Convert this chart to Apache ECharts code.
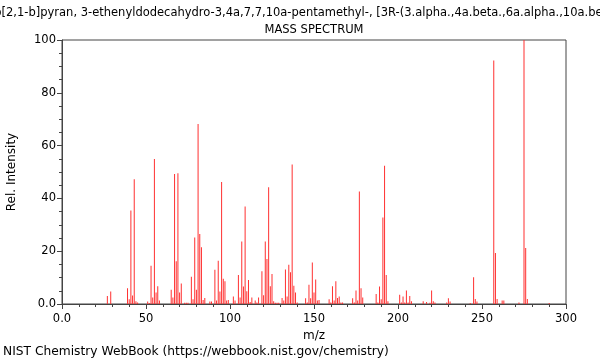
<!DOCTYPE html>
<html>
<head>
<meta charset="utf-8">
<script src="https://cdn.jsdelivr.net/npm/echarts@6/dist/echarts.min.js"></script>
<style>html,body{margin:0;padding:0;background:#fff;}#c{width:600px;height:360px;}</style>
</head>
<body>
<div id="c"></div>
<script>
const titleText = '1H-Naphtho[2,1-b]pyran, 3-ethenyldodecahydro-3,4a,7,7,10a-pentamethyl-, [3R-(3.alpha.,4a.beta.,6a.alpha.,10a.beta.,10b.alpha.)]-';
const subTitle = 'MASS SPECTRUM';
const footer = 'NIST Chemistry WebBook (https://webbook.nist.gov/chemistry)';
const xName = 'm/z';
const yName = 'Rel. Intensity';
const xTicks = [0, 50, 100, 150, 200, 250, 300];
const yTicks = [0, 20, 40, 60, 80, 100];

const mz = [27,29,39,40,41,42,43,44,45,51,52,53,54,55,56,57,58,65,66,67,68,69,70,71,73,74,75,77,78,79,80,81,82,83,84,85,88,89,91,92,93,94,95,96,97,98,99,102,103,105,106,107,108,109,110,111,112,113,115,116,117,119,120,121,122,123,124,125,126,127,128,129,131,132,133,134,135,136,137,138,139,140,145,146,147,148,149,150,151,152,153,159,160,161,162,163,164,165,166,167,173,174,175,176,177,178,179,187,188,189,190,191,192,193,194,201,202,203,204,205,206,207,208,215,217,219,220,221,222,229,230,231,243,245,246,247,257,258,259,262,263,272,275,276,277,290];
const intensity = [3.0,4.7,6.0,1.8,35.4,3.2,47.3,1.0,0.6,0.9,0.4,14.5,2.5,54.9,4.4,6.7,1.3,5.4,2.5,49.2,16.2,49.5,4.4,7.8,0.5,0.5,0.5,10.3,1.8,25.2,5.4,68.2,26.5,21.5,1.5,2.3,0.9,0.9,13.0,1.3,16.4,4.7,46.2,9.6,8.6,1.3,1.5,2.8,1.3,11.0,2.5,23.7,6.6,36.9,4.8,9.1,0.8,2.5,1.3,0.6,2.5,12.4,3.3,23.7,17.0,44.2,6.7,11.4,1.0,0.5,0.5,0.5,2.3,1.3,13.1,2.8,14.9,12.0,52.8,6.9,4.4,0.6,2.2,0.6,7.3,2.2,15.7,4.4,9.3,1.3,1.5,1.8,0.6,6.7,1.3,8.6,2.3,2.8,0.6,0.6,2.2,0.6,5.1,1.3,42.6,6.0,2.5,3.8,0.6,6.6,1.8,32.8,52.4,11.0,1.0,3.5,0.6,2.8,0.6,5.1,0.6,3.0,1.0,1.0,0.8,0.5,5.1,1.0,0.6,0.6,2.2,0.9,0.4,10.1,1.9,0.9,92.2,19.3,1.9,1.3,1.3,0.6,100,21.2,1.9,0.4];

const FONT = 'DejaVu Sans';
const chart = echarts.init(document.getElementById('c'), null, {renderer: 'canvas'});
const fmt = v => (v === 0 ? '0.0' : String(v));
chart.setOption({
  animation: false,
  backgroundColor: '#fff',
  textStyle: {fontFamily: FONT},
  title: [
    {text: titleText, left: 314, top: 7, textAlign: 'center', padding: 0,
     textStyle: {fontFamily: FONT, fontSize: 11.5, fontWeight: 'normal', color: '#000'}},
    {text: subTitle, left: 314, top: 24, textAlign: 'center', padding: 0,
     textStyle: {fontFamily: FONT, fontSize: 11.5, fontWeight: 'normal', color: '#000'}},
    {text: footer, left: 3, top: 346, padding: 0,
     textStyle: {fontFamily: FONT, fontSize: 12.25, fontWeight: 'normal', color: '#000'}}
  ],
  grid: {left: 62, right: 34, top: 40, bottom: 56, outerBoundsMode: 'none', containLabel: false,
         show: true, borderColor: '#444', borderWidth: 1, backgroundColor: 'transparent'},
  xAxis: {
    type: 'value', min: xTicks[0], max: xTicks[xTicks.length - 1], interval: 50,
    name: xName, nameLocation: 'middle', nameGap: 24,
    nameTextStyle: {fontFamily: FONT, fontSize: 12, color: '#000'},
    axisLine: {show: true, onZero: false, lineStyle: {color: '#444'}},
    axisTick: {show: true, length: 5, lineStyle: {color: '#444'}},
    minorTick: {show: true, splitNumber: 5, length: 3, lineStyle: {color: '#444'}},
    splitLine: {show: false},
    axisLabel: {formatter: fmt, fontFamily: FONT, fontSize: 11.5, color: '#000', margin: 9}
  },
  yAxis: {
    type: 'value', min: yTicks[0], max: yTicks[yTicks.length - 1], interval: 20,
    name: yName, nameLocation: 'middle', nameGap: 44,
    nameTextStyle: {fontFamily: FONT, fontSize: 12, color: '#000'},
    axisLine: {show: true, lineStyle: {color: '#444'}},
    axisTick: {show: true, length: 5, lineStyle: {color: '#444'}},
    minorTick: {show: true, splitNumber: 4, length: 3, lineStyle: {color: '#444'}},
    splitLine: {show: false},
    axisLabel: {formatter: fmt, fontFamily: FONT, fontSize: 11.5, color: '#000', margin: 6}
  },
  series: [{
    type: 'bar',
    barWidth: 1,
    data: mz.map((m, i) => [m, intensity[i]]),
    itemStyle: {color: '#ff3030'},
    silent: true
  }]
});
</script>
</body>
</html>
